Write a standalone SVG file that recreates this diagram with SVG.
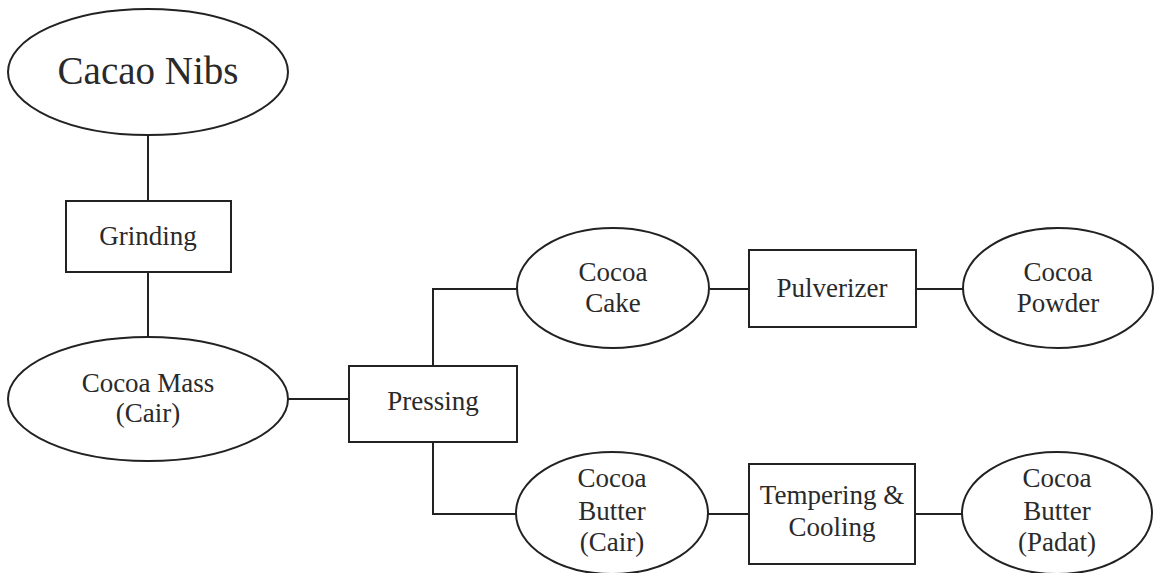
<svg xmlns="http://www.w3.org/2000/svg" width="1154" height="573" viewBox="0 0 1154 573">
  <style>
    .shape { fill: #ffffff; stroke: #222222; stroke-width: 2; }
    .wire { fill: none; stroke: #222222; stroke-width: 2; }
    svg text, svg .label { font-family: "Liberation Serif", "Times New Roman", serif !important; font-size: 27px; fill: #2a2a2a; text-anchor: middle; }
    svg text.title { font-size: 39px; }
  </style>
  <rect width="1154" height="573" fill="#ffffff"/>

  <!-- connectors -->
  <g id="connectors">
    <line class="wire" x1="148" y1="135" x2="148" y2="201"/>
    <line class="wire" x1="148" y1="272" x2="148" y2="337"/>
    <line class="wire" x1="288" y1="399" x2="349" y2="399"/>
    <polyline class="wire" points="433,366 433,289 517,289"/>
    <polyline class="wire" points="433,442 433,514 516,514"/>
    <line class="wire" x1="710" y1="289" x2="749" y2="289"/>
    <line class="wire" x1="916" y1="289" x2="963" y2="289"/>
    <line class="wire" x1="708" y1="514" x2="749" y2="514"/>
    <line class="wire" x1="915" y1="514" x2="962" y2="514"/>
  </g>

  <!-- raw material -->
  <g id="cacao-nibs">
    <ellipse class="shape" cx="148" cy="72" rx="140" ry="63"/>
    <text class="label title" style="font-family:'Liberation Serif',serif !important" x="148" y="84">Cacao Nibs</text>
  </g>

  <g id="grinding">
    <rect class="shape" x="66" y="201" width="165" height="71"/>
    <text class="label" style="font-family:'Liberation Serif',serif !important" x="148" y="245">Grinding</text>
  </g>

  <g id="cocoa-mass">
    <ellipse class="shape" cx="148" cy="399" rx="140" ry="62"/>
    <text class="label" style="font-family:'Liberation Serif',serif !important" x="148" y="392">Cocoa Mass</text>
    <text class="label" style="font-family:'Liberation Serif',serif !important" x="148" y="422">(Cair)</text>
  </g>

  <g id="pressing">
    <rect class="shape" x="349" y="366" width="168" height="76"/>
    <text class="label" style="font-family:'Liberation Serif',serif !important" x="433" y="410">Pressing</text>
  </g>

  <!-- cake branch -->
  <g id="cocoa-cake">
    <ellipse class="shape" cx="613" cy="288" rx="96" ry="60"/>
    <text class="label" style="font-family:'Liberation Serif',serif !important" x="613" y="281">Cocoa</text>
    <text class="label" style="font-family:'Liberation Serif',serif !important" x="613" y="312">Cake</text>
  </g>

  <g id="pulverizer">
    <rect class="shape" x="749" y="250" width="167" height="77"/>
    <text class="label" style="font-family:'Liberation Serif',serif !important" x="832" y="297">Pulverizer</text>
  </g>

  <g id="cocoa-powder">
    <ellipse class="shape" cx="1058" cy="288" rx="95" ry="60"/>
    <text class="label" style="font-family:'Liberation Serif',serif !important" x="1058" y="281">Cocoa</text>
    <text class="label" style="font-family:'Liberation Serif',serif !important" x="1058" y="312">Powder</text>
  </g>

  <!-- butter branch -->
  <g id="cocoa-butter-cair">
    <ellipse class="shape" cx="612" cy="513" rx="96" ry="61"/>
    <text class="label" style="font-family:'Liberation Serif',serif !important" x="612" y="487">Cocoa</text>
    <text class="label" style="font-family:'Liberation Serif',serif !important" x="612" y="520">Butter</text>
    <text class="label" style="font-family:'Liberation Serif',serif !important" x="612" y="551">(Cair)</text>
  </g>

  <g id="tempering-cooling">
    <rect class="shape" x="749" y="464" width="166" height="100"/>
    <text class="label" style="font-family:'Liberation Serif',serif !important" x="832" y="504">Tempering &amp;</text>
    <text class="label" style="font-family:'Liberation Serif',serif !important" x="832" y="536">Cooling</text>
  </g>

  <g id="cocoa-butter-padat">
    <ellipse class="shape" cx="1057" cy="513" rx="95" ry="61"/>
    <text class="label" style="font-family:'Liberation Serif',serif !important" x="1057" y="487">Cocoa</text>
    <text class="label" style="font-family:'Liberation Serif',serif !important" x="1057" y="520">Butter</text>
    <text class="label" style="font-family:'Liberation Serif',serif !important" x="1057" y="551">(Padat)</text>
  </g>
</svg>
